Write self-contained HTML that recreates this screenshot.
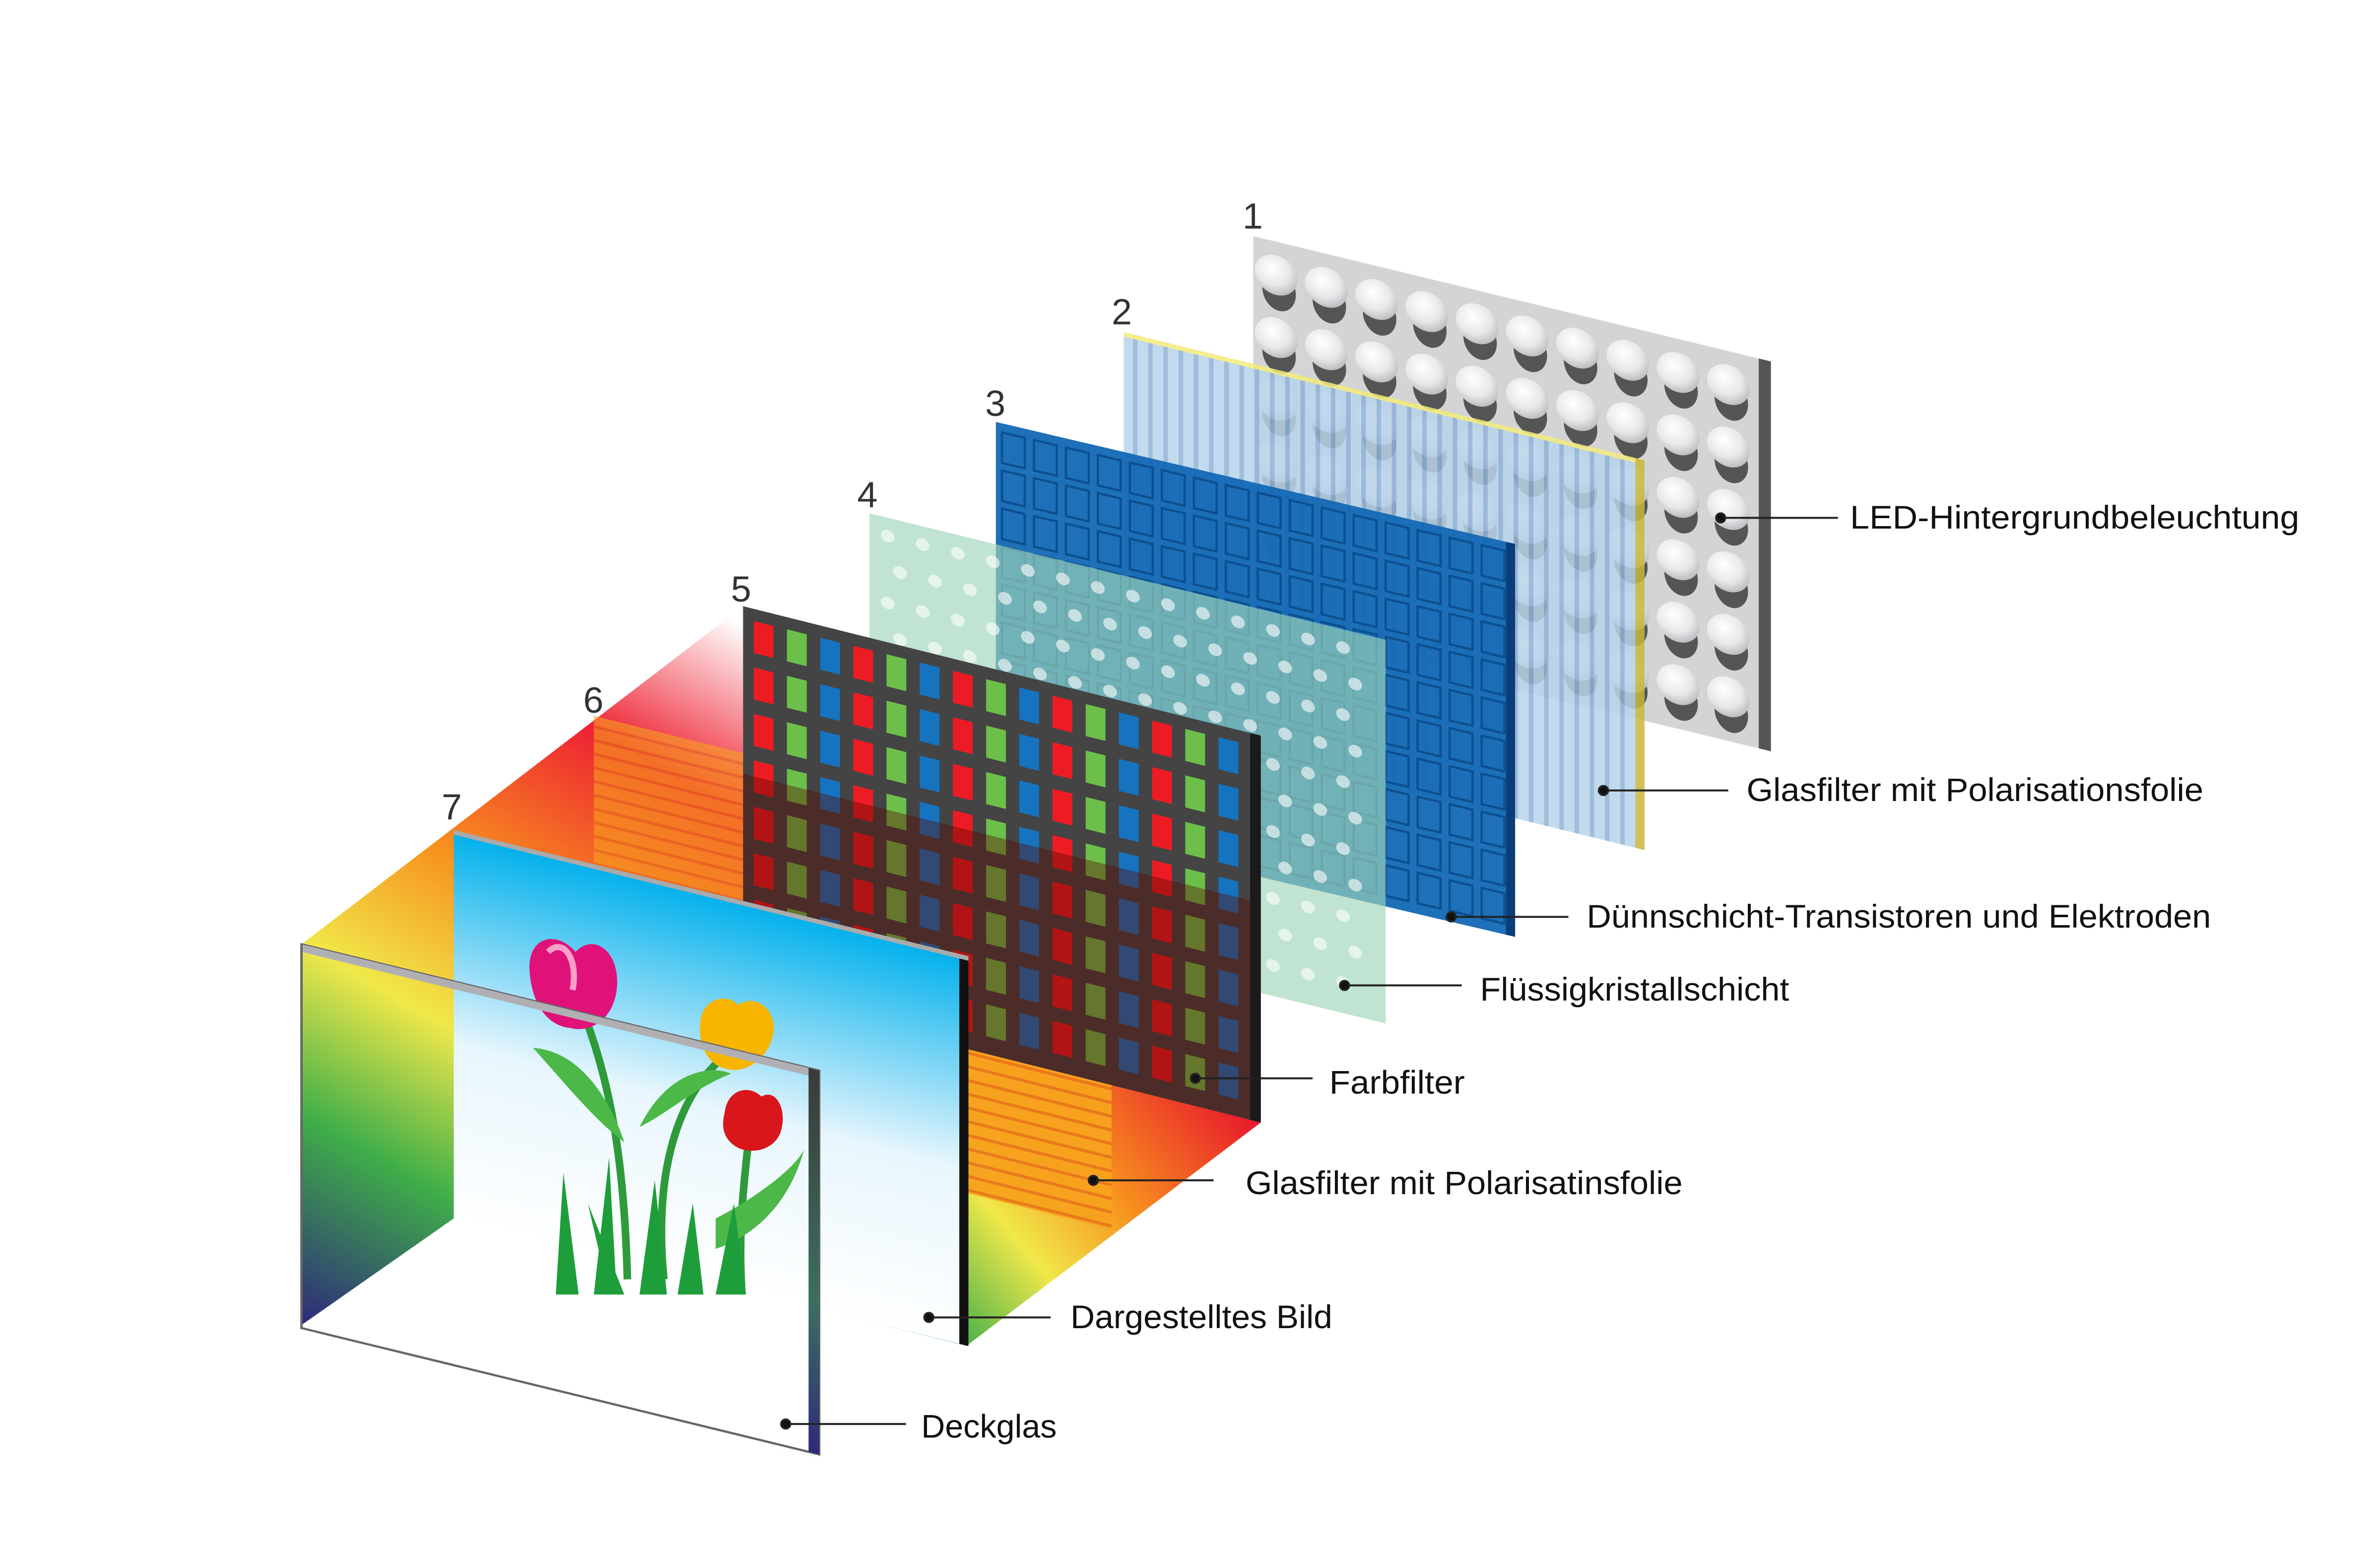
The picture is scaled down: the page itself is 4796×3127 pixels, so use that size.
<!DOCTYPE html>
<html><head><meta charset="utf-8"><style>html,body{margin:0;padding:0;background:#fff}svg{display:block}</style></head>
<body>
<svg width="4796" height="3127" viewBox="0 0 1563 1019" xmlns="http://www.w3.org/2000/svg" font-family="Liberation Sans, sans-serif">
<defs>
<linearGradient id="rb" gradientUnits="userSpaceOnUse" x1="470" y1="400" x2="200" y2="870">
<stop offset="0" stop-color="#fff"/><stop offset="0.2" stop-color="#ee2233"/><stop offset="0.42" stop-color="#f7931e"/><stop offset="0.6" stop-color="#f0e84a"/><stop offset="0.78" stop-color="#3fae49"/><stop offset="1" stop-color="#2e2a7a"/>
</linearGradient>
<linearGradient id="rb2" gradientUnits="userSpaceOnUse" x1="820" y1="730" x2="560" y2="950">
<stop offset="0" stop-color="#e8192c"/><stop offset="0.3" stop-color="#f7931e"/><stop offset="0.5" stop-color="#f0e84a"/><stop offset="0.72" stop-color="#3fae49"/><stop offset="1" stop-color="#2e2a7a"/>
</linearGradient>
<linearGradient id="sky" x1="0" y1="0" x2="0" y2="1"><stop offset="0" stop-color="#00b0ec"/><stop offset="0.55" stop-color="#e8f6fd"/><stop offset="1" stop-color="#fff"/></linearGradient>
<linearGradient id="dg" x1="0" y1="0" x2="0" y2="1"><stop offset="0" stop-color="#3a3a3a"/><stop offset="0.6" stop-color="#3a7060"/><stop offset="1" stop-color="#2e2a7a"/></linearGradient>
<pattern id="stripes" width="340" height="9" patternUnits="userSpaceOnUse"><rect width="340" height="9" fill="#f7a21e"/><rect y="6" width="340" height="2" fill="#e8781a"/></pattern>
<radialGradient id="led" cx="0.4" cy="0.35" r="0.7"><stop offset="0" stop-color="#fff"/><stop offset="0.6" stop-color="#e8e8ea"/><stop offset="1" stop-color="#b8b8bc"/></radialGradient>
</defs>

<!-- Layer 1 LED -->
<g transform="matrix(1,0.242,0,1,823,155)">
<rect width="340" height="256" fill="#d4d4d6"/>
<rect x="332" width="8" height="256" fill="#555"/>
<g id="lg"></g>
</g>

<!-- Layer 2 stripes -->
<g transform="matrix(1,0.246,0,1,738,218)" opacity="0.85">
<rect width="342" height="256" fill="#b8d4ea"/>
<g fill="#8fb3d6" id="st2"></g>
<rect width="342" height="3" fill="#f4ec7a"/>
<rect x="336" width="6" height="256" fill="#c8b83a"/>
</g>

<!-- Layer 3 blue -->
<g transform="matrix(1,0.235,0,1,654,277)">
<rect width="341" height="258" fill="#1268b4" opacity="0.95"/>
<g fill="none" stroke="#0d4f8f" stroke-width="1.5" id="b3"></g>
<rect x="335" width="6" height="258" fill="#0b3e78"/>
</g>

<!-- Layer 4 green -->
<g transform="matrix(1,0.245,0,1,571,337)">
<rect width="339" height="252" fill="#9ed6b8" opacity="0.65"/>
<g fill="#fff" opacity="0.6" id="d4"></g>
</g>

<!-- Layer 6 rainbow volume -->
<polygon points="198,620 488,398 488,652 828,737 538,957 198,870" fill="url(#rb)"/>
<polygon points="488,652 828,737 538,957 300,800" fill="url(#rb2)"/>

<!-- orange stripes filter layer 6 (behind layer 5) -->
<g transform="matrix(1,0.25,0,1,390,470)">
<rect width="340" height="252" fill="url(#stripes)" opacity="0.6"/>
<rect x="240" y="150" width="100" height="102" fill="url(#stripes)" opacity="0.9"/>
</g>

<!-- Layer 5 color filter -->
<g transform="matrix(1,0.25,0,1,488,398)">
<rect width="340" height="254" fill="#444"/>
<g id="c5"></g>
<polygon points="0,110 340,110 340,254 0,254" fill="#5a0a00" opacity="0.4"/>
<rect x="333" width="7" height="254" fill="#1a1a1a"/>
</g>

<!-- left inner wall -->
<polygon points="198,620 298,545 298,800 198,870" fill="url(#rb)"/>
<!-- floor -->
<polygon points="198,870 298,800 636,884 538,957" fill="#fff"/>

<!-- Layer 7 picture -->
<g transform="matrix(1,0.245,0,1,298,545)">
<rect width="338" height="256" fill="url(#sky)"/>
<rect x="332" width="6" height="256" fill="#111"/>
<rect width="338" height="3" fill="#aaa"/>
</g>
<!-- tulips -->
<g>
<path d="M385,670 C400,710 410,760 412,840" stroke="#2e9a3a" stroke-width="5" fill="none"/>
<path d="M480,690 C440,720 430,780 436,840" stroke="#2e9a3a" stroke-width="5" fill="none"/>
<path d="M492,745 C488,780 485,810 487,845" stroke="#2e9a3a" stroke-width="5" fill="none"/>
<path d="M350,688 C380,690 400,720 410,750 C390,735 370,710 350,688Z" fill="#4cb848"/>
<path d="M420,740 C440,700 470,700 480,705 C455,715 440,730 420,740Z" fill="#4cb848"/>
<path d="M470,800 C490,790 520,770 528,755 C520,785 500,810 470,820Z" fill="#4cb848"/>
<path d="M365,850 L370,770 L380,850Z M390,850 L400,760 L405,850Z M420,850 L430,775 L438,850Z M445,850 L455,790 L462,850Z M470,850 L482,790 L490,850Z M400,850 L386,790 L410,850Z" fill="#1e9e3a"/>
<path d="M348,640 C345,615 365,610 378,625 C390,612 408,625 405,650 C402,672 385,678 375,675 C360,674 350,660 348,640Z" fill="#e0127a"/>
<path d="M360,625 C370,615 380,630 376,650" stroke="#f8a0c8" stroke-width="4" fill="none"/>
<path d="M460,670 C462,655 478,652 485,660 C495,652 510,662 508,678 C505,695 490,705 478,702 C466,700 458,688 460,670Z" fill="#f7b500"/>
<path d="M476,730 C478,715 492,712 500,720 C510,714 518,730 512,745 C506,757 490,758 482,752 C474,746 474,738 476,730Z" fill="#d8161c"/>
</g>

<!-- Deckglas -->
<g transform="matrix(1,0.244,0,1,198,620)">
<rect width="340" height="252" fill="none" stroke="#666" stroke-width="1.5"/>
<rect width="340" height="5" fill="#b0b0b4"/>
<rect x="333" width="7" height="252" fill="url(#dg)"/>
</g>
<line x1="198" y1="620" x2="198" y2="870" stroke="#666" stroke-width="1.5"/>

<!-- numbers -->
<g font-size="24" fill="#333">
<text x="816" y="150">1</text><text x="730" y="213">2</text><text x="647" y="273">3</text><text x="563" y="333">4</text><text x="480" y="395">5</text><text x="383" y="468">6</text><text x="290" y="538">7</text>
</g>

<!-- leader lines -->
<g stroke="#222" stroke-width="1.3" fill="#111">
<line x1="1130" y1="340" x2="1207" y2="340"/><circle cx="1130" cy="340" r="3"/>
<line x1="1053" y1="519" x2="1135" y2="519"/><circle cx="1053" cy="519" r="3"/>
<line x1="953" y1="602" x2="1030" y2="602"/><circle cx="953" cy="602" r="3"/>
<line x1="883" y1="647" x2="960" y2="647"/><circle cx="883" cy="647" r="3"/>
<line x1="785" y1="708" x2="862" y2="708"/><circle cx="785" cy="708" r="3"/>
<line x1="718" y1="775" x2="797" y2="775"/><circle cx="718" cy="775" r="3"/>
<line x1="610" y1="865" x2="690" y2="865"/><circle cx="610" cy="865" r="3"/>
<line x1="516" y1="935" x2="595" y2="935"/><circle cx="516" cy="935" r="3"/>
</g>
<g font-size="21.5" fill="#111">
<text x="1215" y="347" textLength="295" lengthAdjust="spacingAndGlyphs">LED-Hintergrundbeleuchtung</text>
<text x="1147" y="526" textLength="300" lengthAdjust="spacingAndGlyphs">Glasfilter mit Polarisationsfolie</text>
<text x="1042" y="609" textLength="410" lengthAdjust="spacingAndGlyphs">Dünnschicht-Transistoren und Elektroden</text>
<text x="972" y="657" textLength="203" lengthAdjust="spacingAndGlyphs">Flüssigkristallschicht</text>
<text x="873" y="718" textLength="89" lengthAdjust="spacingAndGlyphs">Farbfilter</text>
<text x="818" y="784" textLength="287" lengthAdjust="spacingAndGlyphs">Glasfilter mit Polarisatinsfolie</text>
<text x="703" y="872" textLength="172" lengthAdjust="spacingAndGlyphs">Dargestelltes Bild</text>
<text x="605" y="944" textLength="89" lengthAdjust="spacingAndGlyphs">Deckglas</text>
</g>

<script>
(function(){
var ns="http://www.w3.org/2000/svg";
function el(p,t,a){var e=document.createElementNS(ns,t);for(var k in a)e.setAttribute(k,a[k]);p.appendChild(e);return e;}
var lg=document.getElementById("lg");
for(var r=0;r<6;r++)for(var c=0;c<10;c++){var x=15+c*33,y=22+r*41;
el(lg,"ellipse",{cx:x+2,cy:y+10,rx:11,ry:13,fill:"#555"});
el(lg,"ellipse",{cx:x,cy:y,rx:14,ry:13,fill:"url(#led)"});}
var st=document.getElementById("st2");
for(var i=0;i<34;i++)el(st,"rect",{x:i*10+6,y:0,width:3,height:256});
var b=document.getElementById("b3");
for(var r=0;r<10;r++)for(var c=0;c<16;c++)el(b,"rect",{x:4+c*21,y:6+r*25,width:15,height:20});
var d=document.getElementById("d4");
for(var r=0;r<11;r++)for(var c=0;c<14;c++)el(d,"ellipse",{cx:12+c*23+(r%2)*8,cy:12+r*22,rx:4.5,ry:4});
var g=document.getElementById("c5"),cols=["#ed1c24","#6cc04a","#1673c0"];
for(var r=0;r<8;r++)for(var c=0;c<15;c++)el(g,"rect",{x:7+c*21.8,y:8+r*30.5,width:13,height:21,fill:cols[c%3]});
})();
</script>
</svg>
</body></html>
